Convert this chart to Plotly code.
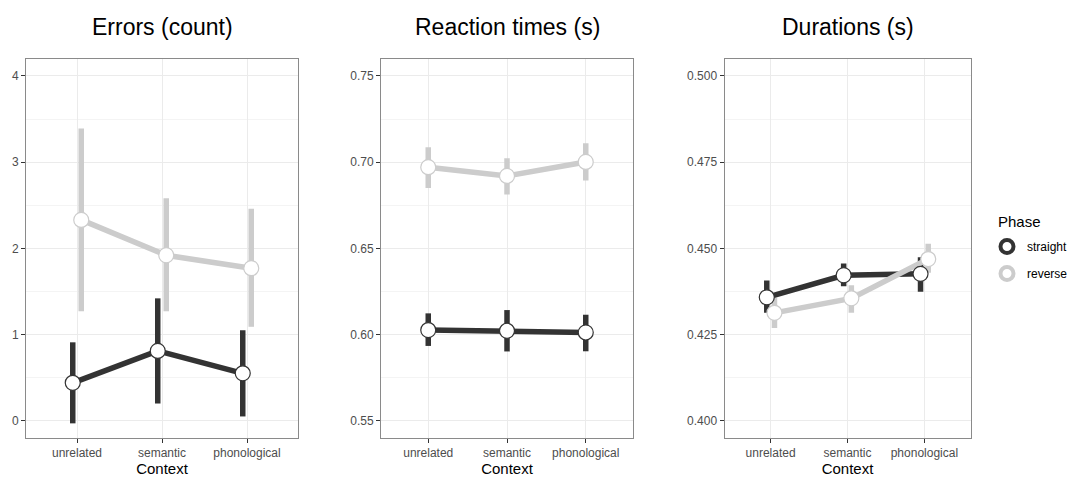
import plotly.graph_objects as go

W, H = 1078, 477

contexts = ["unrelated", "semantic", "phonological"]
phases = ["straight", "reverse"]

# Errors (count)
err_straight_mean = [0.44, 0.81, 0.55]
err_straight_lo = [-0.03, 0.20, 0.05]
err_straight_hi = [0.91, 1.42, 1.05]
err_reverse_mean = [2.33, 1.92, 1.77]
err_reverse_lo = [1.27, 1.27, 1.09]
err_reverse_hi = [3.39, 2.58, 2.46]

# Reaction times (s)
rt_straight_mean = [0.6026, 0.6022, 0.6012]
rt_straight_lo = [0.5934, 0.5902, 0.5903]
rt_straight_hi = [0.6123, 0.6142, 0.6115]
rt_reverse_mean = [0.6971, 0.6920, 0.7001]
rt_reverse_lo = [0.6850, 0.6812, 0.6893]
rt_reverse_hi = [0.7086, 0.7023, 0.7110]

# Durations (s)
dur_straight_mean = [0.4358, 0.4422, 0.4426]
dur_straight_lo = [0.4313, 0.4390, 0.4374]
dur_straight_hi = [0.4407, 0.4456, 0.4474]
dur_reverse_mean = [0.4313, 0.4355, 0.4469]
dur_reverse_lo = [0.4269, 0.4313, 0.4429]
dur_reverse_hi = [0.4357, 0.4393, 0.4513]

titles = ["Errors (count)", "Reaction times (s)", "Durations (s)"]
legend_title = "Phase"
y_ranges = [[-0.2, 4.2], [0.54, 0.76], [0.395, 0.505]]
y_ticks = [[0, 1, 2, 3, 4], [0.55, 0.60, 0.65, 0.70, 0.75], [0.400, 0.425, 0.450, 0.475, 0.500]]
y_ticktext = [["0", "1", "2", "3", "4"], ["0.55", "0.60", "0.65", "0.70", "0.75"],
              ["0.400", "0.425", "0.450", "0.475", "0.500"]]
y_minor = [0.5, 0.025, 0.0125]
dodges = [0.05, 0.0, 0.05]

panels = [
    {"straight": (err_straight_mean, err_straight_lo, err_straight_hi),
     "reverse": (err_reverse_mean, err_reverse_lo, err_reverse_hi)},
    {"straight": (rt_straight_mean, rt_straight_lo, rt_straight_hi),
     "reverse": (rt_reverse_mean, rt_reverse_lo, rt_reverse_hi)},
    {"straight": (dur_straight_mean, dur_straight_lo, dur_straight_hi),
     "reverse": (dur_reverse_mean, dur_reverse_lo, dur_reverse_hi)},
]

colors = {"straight": "#333333", "reverse": "#cccccc"}

# pixel geometry of panels
x_px = [(26, 298), (381, 633), (724.5, 970.5)]
y_top_px, y_bot_px = 58.7, 438

fig = go.Figure()

for i, pdata in enumerate(panels):
    xa = "x" if i == 0 else f"x{i+1}"
    ya = "y" if i == 0 else f"y{i+1}"
    xpos = {}
    for ph in phases:
        off = -dodges[i] if ph == "straight" else dodges[i]
        xpos[ph] = [j + off for j in range(len(contexts))]
    # error bars
    for ph in phases:
        m, lo, hi = pdata[ph]
        fig.add_trace(go.Scatter(
            x=xpos[ph], y=m, mode="markers", xaxis=xa, yaxis=ya,
            marker=dict(size=1, color="rgba(0,0,0,0)"),
            error_y=dict(type="data", symmetric=False,
                         array=[h - v for h, v in zip(hi, m)],
                         arrayminus=[v - l for v, l in zip(m, lo)],
                         thickness=5.5, width=0, color=colors[ph]),
            showlegend=False, hoverinfo="skip"))
    # lines
    for ph in phases:
        m, lo, hi = pdata[ph]
        fig.add_trace(go.Scatter(
            x=xpos[ph], y=m, mode="lines", xaxis=xa, yaxis=ya,
            line=dict(color=colors[ph], width=5.5),
            showlegend=False, hoverinfo="skip"))
    # points
    for ph in phases:
        m, lo, hi = pdata[ph]
        fig.add_trace(go.Scatter(
            x=xpos[ph], y=m, mode="markers", xaxis=xa, yaxis=ya,
            marker=dict(size=15, color="white",
                        line=dict(color=colors[ph], width=1.2)),
            showlegend=False))

# legend entries
for ph in phases:
    fig.add_trace(go.Scatter(
        x=[None], y=[None], mode="markers", name=ph, legendgroup=ph,
        marker=dict(size=13, color="white", line=dict(color=colors[ph], width=4))))

layout = dict(
    width=W, height=H,
    margin=dict(l=0, r=0, t=0, b=0),
    paper_bgcolor="white", plot_bgcolor="white",
    font=dict(family="Liberation Sans, Arial, sans-serif", color="#000000"),
    showlegend=True,
    legend=dict(
        font=dict(size=12, color="#000000"),
        x=987 / W, y=1 - 232 / H, xanchor="left", yanchor="top",
        bgcolor="rgba(0,0,0,0)", itemsizing="trace", tracegroupgap=8,
        itemwidth=30),
    annotations=[dict(
        text=legend_title, xref="paper", yref="paper",
        x=996 / W, y=1 - 221 / H, xanchor="left", yanchor="middle",
        showarrow=False, font=dict(size=15, color="#000000"))],
)

for i in range(3):
    xk = "xaxis" if i == 0 else f"xaxis{i+1}"
    yk = "yaxis" if i == 0 else f"yaxis{i+1}"
    xa_name = "x" if i == 0 else f"x{i+1}"
    ya_name = "y" if i == 0 else f"y{i+1}"
    x0, x1 = x_px[i]
    layout[xk] = dict(
        domain=[x0 / W, x1 / W], anchor=ya_name,
        range=[-0.6, 2.6], tickmode="array", tickvals=[0, 1, 2], ticktext=contexts,
        showgrid=True, gridcolor="#ebebeb", gridwidth=1.1,
        zeroline=False, showline=True, mirror=True, linecolor="#8a8a8a", linewidth=1,
        ticks="outside", ticklen=4, tickcolor="#333333", tickwidth=1,
        tickfont=dict(size=12, color="#4d4d4d"),
        title=dict(text="Context", font=dict(size=15, color="#000000"), standoff=5),
        fixedrange=True,
    )
    layout[yk] = dict(
        domain=[1 - y_bot_px / H, 1 - y_top_px / H], anchor=xa_name,
        range=y_ranges[i], tickmode="array", tickvals=y_ticks[i], ticktext=y_ticktext[i],
        showgrid=True, gridcolor="#ebebeb", gridwidth=1.1,
        minor=dict(dtick=y_minor[i], tick0=y_ticks[i][0], showgrid=True, gridcolor="#f4f4f4", gridwidth=0.8),
        zeroline=False, showline=True, mirror=True, linecolor="#8a8a8a", linewidth=1,
        ticks="outside", ticklen=4, tickcolor="#333333", tickwidth=1,
        tickfont=dict(size=12, color="#4d4d4d"),
        fixedrange=True,
    )
    layout["annotations"].append(dict(
        text=titles[i], xref="paper", yref="paper",
        x=((x0 + x1) / 2) / W, y=1 - 27 / H, xanchor="center", yanchor="middle",
        showarrow=False, font=dict(size=23, color="#000000")))

fig.update_layout(**layout)
fig.write_html("out.html")
